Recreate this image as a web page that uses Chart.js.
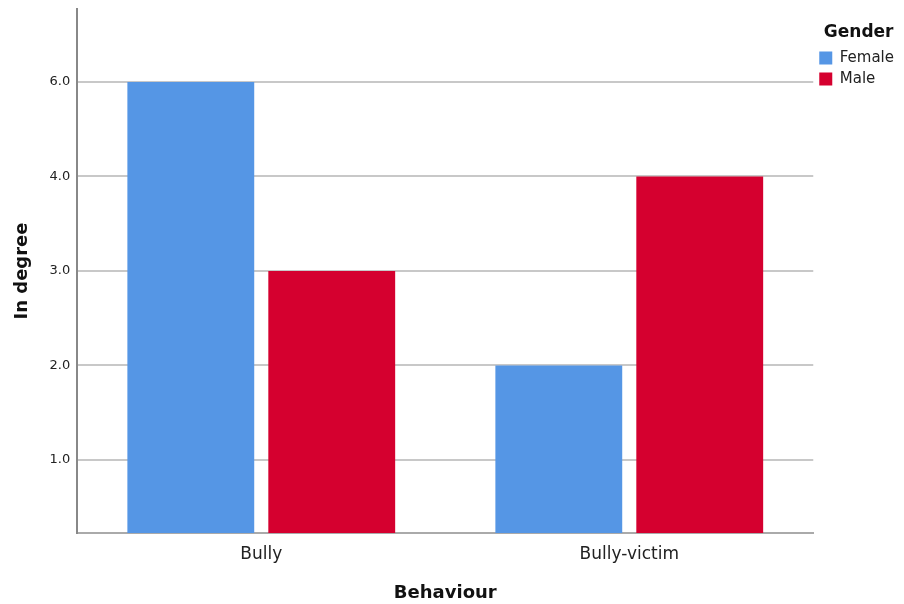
<!DOCTYPE html>
<html>
<head>
<meta charset="utf-8">
<script src="https://cdn.jsdelivr.net/npm/chart.js@4"></script>
<style>
  html, body { margin: 0; padding: 0; background: #fff; }
  #wrap { width: 904px; height: 604px; }
</style>
</head>
<body>
<div id="wrap"><canvas id="genderChart"></canvas></div>
<script>
const categories = ['Bully', 'Bully-victim']
const femaleValues = [6, 2]
const maleValues = [3, 4]
const tickValues = [1, 2, 3, 4, 6]
const tickLabels = ['1.0', '2.0', '3.0', '4.0', '6.0']

// the original axis jumps from 4.0 straight to 6.0 with one step,
// so anything above 4 is squeezed to half spacing
const axisPos = v => (v <= 4 ? v : 4 + (v - 4) / 2)

const ctx = document.querySelector('#genderChart').getContext('2d')

const genderChart = new Chart(ctx, {
    type: 'bar',
    data: {
        labels: categories,
        datasets: [
            {
                label: 'Female',
                data: femaleValues.map(axisPos),
                backgroundColor: '#5596e5',
            },
            {
                label: 'Male',
                data: maleValues.map(axisPos),
                backgroundColor: '#d5002f',
            },
        ],
    },
    options: {
        responsive: true,
        maintainAspectRatio: false,
        animation: false,
        layout: {
            padding: { top: 9, right: 0, left: 0, bottom: 0 },
        },
        datasets: {
            bar: {
                categoryPercentage: 0.766,
                barPercentage: 0.9,
            },
        },
        plugins: {
            tooltip: { enabled: false },
            legend: {
                position: 'right',
                align: 'start',
                title: {
                    display: true,
                    text: 'Gender',
                    color: '#111',
                    font: { family: 'DejaVu Sans', size: 17, weight: 'bold' },
                    padding: { top: 15, bottom: 0 },
                },
                labels: {
                    boxWidth: 13,
                    boxHeight: 13,
                    color: '#222',
                    padding: 6,
                    font: { family: 'DejaVu Sans', size: 15 },
                },
            },
        },
        scales: {
            x: {
                grid: { display: false },
                border: { display: true, color: '#aaa', width: 2 },
                ticks: {
                    color: '#222',
                    padding: 3,
                    font: { family: 'DejaVu Sans', size: 17 },
                },
                title: {
                    display: true,
                    text: 'Behaviour',
                    color: '#111',
                    font: { family: 'DejaVu Sans', size: 18, weight: 'bold' },
                    padding: { top: 15, bottom: 0 },
                },
            },
            y: {
                min: 0.2275,
                max: 5.772,
                afterBuildTicks: axis => {
                    axis.ticks = tickValues.map(v => ({ value: axisPos(v) }))
                },
                // top tick sits well below the axis end, no label room needed
                afterFit: axis => {
                    axis.paddingTop = 0
                },
                grid: {
                    color: '#c8c8c8',
                    lineWidth: 2,
                    drawTicks: false,
                },
                border: { display: true, color: '#888', width: 2 },
                ticks: {
                    color: '#222',
                    padding: 7,
                    font: { family: 'DejaVu Sans', size: 13 },
                    callback: (value, i) => tickLabels[i],
                },
                title: {
                    display: true,
                    text: 'In degree',
                    color: '#111',
                    font: { family: 'DejaVu Sans', size: 18, weight: 'bold' },
                    padding: { top: 12, bottom: 9 },
                },
            },
        },
    },
})
</script>
</body>
</html>
